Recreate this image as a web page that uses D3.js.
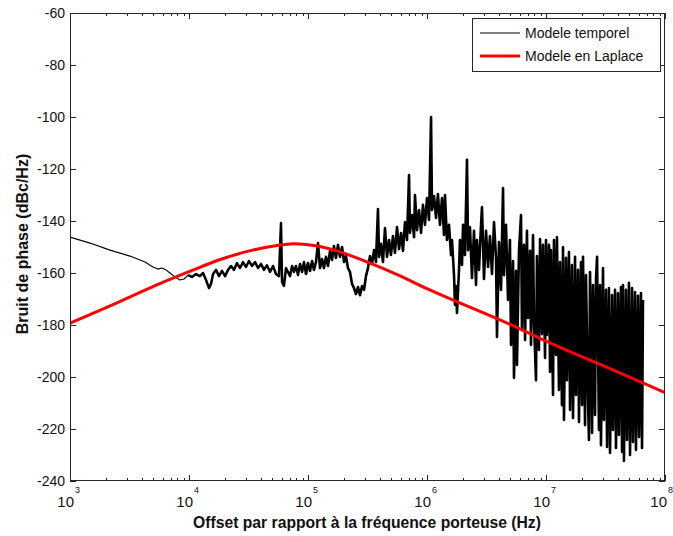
<!DOCTYPE html>
<html><head><meta charset="utf-8">
<script src="https://cdn.jsdelivr.net/npm/d3@7"></script>
<style>
body{margin:0;background:#fff}
svg{display:block}
text{font-family:"Liberation Sans",Arial,Helvetica,sans-serif;fill:#111}
</style>
</head><body>
<svg id="chart" width="673" height="536"></svg>
<script>
// ---------- data ----------
const yTickValues = [-240,-220,-200,-180,-160,-140,-120,-100,-80,-60];
const xDecades = [3,4,5,6,7,8];           // tick labels 10^n
const seriesNames = ["Modele temporel","Modele en Laplace"];

// Laplace model: log10(frequency in Hz) and dBc/Hz
const laplaceExp = [3.0,3.25,3.5,3.75,4.0,4.25,4.5,4.75,4.85,5.0,5.1,5.25,5.5,5.75,6.0,6.25,6.5,6.75,7.0,7.25,7.5,7.75,8.0];
const laplaceDb  = [-179.3,-174.4,-169.3,-164.2,-159.5,-155.0,-151.6,-149.3,-148.8,-149.1,-149.8,-151.6,-155.8,-160.6,-166.0,-171.0,-175.8,-180.8,-186.2,-191.2,-196.0,-201.0,-206.0];

// Temporal model: [log10(frequency in Hz), dBc/Hz]
const temporelA = [[3.000,-146.2],[3.168,-148.5],[3.336,-151.2],[3.504,-153.5],[3.630,-155.8],[3.697,-157.7],[3.739,-158.5],[3.773,-158.1],[3.807,-158.8],[3.840,-160.0],[3.882,-161.5],[3.924,-162.7],[3.958,-162.3],[3.992,-160.8]];
const temporelB = [[4.025,-161.5],[4.059,-160.4],[4.092,-161.2],[4.118,-160.0],[4.143,-162.7],[4.168,-165.8],[4.185,-164.2],[4.202,-160.4],[4.227,-158.8],[4.252,-161.2],[4.277,-159.2],[4.303,-161.2],[4.328,-158.8],[4.353,-157.3],[4.378,-158.8],[4.403,-156.2],[4.429,-158.1],[4.454,-155.8],[4.479,-157.7],[4.504,-155.4],[4.529,-157.3],[4.555,-155.8],[4.580,-158.1],[4.605,-156.5],[4.630,-158.8],[4.655,-157.0],[4.681,-159.6],[4.706,-157.3],[4.731,-160.4],[4.756,-161.2],[4.773,-140.8],[4.782,-163.5],[4.798,-165.0],[4.815,-158.1],[4.832,-159.6],[4.849,-161.2],[4.866,-157.3],[4.882,-159.6],[4.899,-157.3],[4.916,-160.8],[4.933,-156.5],[4.950,-159.6],[4.966,-155.8],[4.983,-160.4]];
const temporelC = [[5.000,-156.2],[5.017,-159.2],[5.034,-155.4],[5.050,-158.8],[5.067,-155.8],[5.084,-148.5],[5.101,-158.1],[5.118,-154.6],[5.134,-158.1],[5.151,-153.8],[5.168,-157.3],[5.185,-151.5],[5.202,-155.0],[5.218,-149.6],[5.235,-154.2],[5.252,-149.2],[5.269,-153.8],[5.286,-150.0],[5.303,-155.8],[5.319,-153.5],[5.336,-158.1],[5.353,-159.6],[5.370,-164.2],[5.387,-165.8],[5.403,-168.1],[5.420,-165.4],[5.437,-168.5],[5.454,-165.0],[5.471,-166.5],[5.487,-161.2],[5.504,-158.1],[5.521,-153.5],[5.538,-156.5],[5.555,-151.2],[5.571,-155.8],[5.588,-135.4],[5.597,-153.8],[5.613,-148.8],[5.630,-155.8],[5.647,-142.7],[5.664,-153.8],[5.681,-147.3],[5.697,-153.1],[5.714,-145.8],[5.731,-152.3],[5.748,-142.3],[5.765,-150.8],[5.782,-144.6],[5.798,-151.5],[5.815,-140.4],[5.832,-147.3],[5.849,-122.3],[5.857,-144.6],[5.874,-137.7],[5.891,-146.2],[5.899,-130.0],[5.916,-143.5],[5.933,-135.8],[5.950,-144.6],[5.966,-133.8],[5.983,-141.5]];
const temporelD = [[6.000,-131.2],[6.017,-139.6],[6.034,-100.0],[6.042,-135.8],[6.059,-130.4],[6.076,-138.8],[6.092,-129.6],[6.109,-141.5],[6.126,-131.2],[6.143,-145.4],[6.151,-130.0],[6.168,-147.3],[6.185,-141.5],[6.202,-153.1],[6.210,-147.3],[6.227,-160.8],[6.235,-172.3],[6.244,-165.0],[6.252,-175.4],[6.269,-158.8],[6.277,-147.3],[6.294,-156.9],[6.303,-141.5],[6.319,-153.1],[6.336,-116.5],[6.345,-151.2],[6.361,-142.3],[6.378,-161.9],[6.395,-143.8],[6.412,-164.6],[6.420,-147.3],[6.437,-158.8],[6.454,-141.5],[6.462,-134.6],[6.479,-162.3],[6.496,-143.8],[6.513,-157.7],[6.529,-145.8],[6.546,-160.4],[6.563,-140.4],[6.580,-154.2],[6.588,-184.6],[6.605,-148.1],[6.622,-166.5],[6.639,-127.3],[6.647,-160.8],[6.664,-141.5],[6.681,-170.4],[6.697,-147.3],[6.706,-187.7],[6.723,-155.4],[6.731,-200.4],[6.748,-159.2],[6.756,-195.4],[6.773,-151.5],[6.790,-137.7],[6.798,-181.9],[6.815,-149.2],[6.824,-185.8],[6.840,-143.8],[6.849,-177.3],[6.866,-151.5],[6.874,-187.7],[6.891,-145.4],[6.899,-178.5],[6.916,-201.2],[6.924,-153.5],[6.941,-189.6],[6.950,-146.9],[6.966,-183.5],[6.975,-149.2],[6.992,-192.7]];
const temporelE = [[7.000,-147.3],[7.008,-183.8],[7.025,-149.2],[7.034,-198.1],[7.042,-151.2],[7.059,-206.9],[7.067,-147.3],[7.084,-191.5],[7.092,-146.2],[7.109,-205.0],[7.118,-155.8],[7.134,-210.8],[7.143,-150.0],[7.151,-216.5],[7.168,-154.2],[7.176,-201.2],[7.193,-151.9],[7.202,-212.7],[7.218,-156.9],[7.227,-215.8],[7.244,-153.8],[7.252,-206.9],[7.269,-158.8],[7.277,-217.3],[7.294,-155.8],[7.303,-210.8],[7.311,-153.8],[7.328,-218.5],[7.336,-160.8],[7.353,-208.8],[7.361,-224.2],[7.370,-159.6],[7.387,-221.5],[7.395,-164.6],[7.412,-214.6],[7.420,-162.7],[7.429,-153.8],[7.445,-220.4],[7.454,-164.6],[7.462,-226.2],[7.479,-158.1],[7.487,-216.5],[7.504,-166.5],[7.513,-226.9],[7.529,-165.8],[7.538,-229.2],[7.555,-168.5],[7.563,-220.4],[7.580,-166.5],[7.588,-227.3],[7.605,-167.7],[7.613,-222.3],[7.630,-165.4],[7.639,-228.8],[7.647,-164.6],[7.655,-232.3],[7.672,-166.5],[7.681,-224.2],[7.697,-163.8],[7.706,-230.0],[7.723,-165.8],[7.731,-225.0],[7.748,-167.3],[7.756,-228.1],[7.773,-168.8],[7.782,-223.1],[7.798,-167.7],[7.807,-227.3],[7.815,-170.4]];

// ---------- layout ----------
const L = 70, R = 665, T = 13, B = 481;
const svg = d3.select("#chart");
const x = d3.scaleLog().domain([1e3, 1e8]).range([L, R]);
const y = d3.scaleLinear().domain([-240, -60]).range([B, T]);
const axisColor = "#262626";

svg.append("defs").append("clipPath").attr("id","plotclip")
  .append("rect").attr("x",L).attr("y",T).attr("width",R-L).attr("height",B-T);

const plot = svg.append("g").attr("clip-path","url(#plotclip)");

// temporal model (same series; the smooth low-offset part drawn thinner like the reference)
const toPts = arr => arr.map(d => ({f: Math.pow(10, d[0]), v: d[1]}));
const blackLine = d3.line().x(d => x(d.f)).y(d => y(d.v));
const temporelParts = [
  {pts: toPts(temporelA.concat([temporelB[0]])), w: 1.1},
  {pts: toPts([temporelA[temporelA.length-1]].concat(temporelB, [temporelC[0]])), w: 2.5},
  {pts: toPts([temporelB[temporelB.length-1]].concat(temporelC, temporelD, temporelE)), w: 2.6}
];
temporelParts.forEach(p => {
  plot.append("path").datum(p.pts)
    .attr("fill","none").attr("stroke","#000").attr("stroke-width",p.w)
    .attr("stroke-linejoin","round")
    .attr("d", blackLine);
});

// Laplace model
const laplace = laplaceExp.map((e,i) => ({f: Math.pow(10, e), v: laplaceDb[i]}));
plot.append("path").datum(laplace)
  .attr("fill","none").attr("stroke","#ff0000").attr("stroke-width",3)
  .attr("d", d3.line().curve(d3.curveCatmullRom).x(d => x(d.f)).y(d => y(d.v)));

// ---------- axes box ----------
const ax = svg.append("g").attr("stroke", axisColor).attr("stroke-width",1).attr("fill","none");
ax.append("rect").attr("x",L+0.5).attr("y",T+0.5).attr("width",R-L-1).attr("height",B-T-1);

// y ticks (left & right, inward)
yTickValues.forEach(v => {
  const yy = Math.round(y(v)) + 0.5;
  ax.append("line").attr("x1",L).attr("x2",L+6).attr("y1",yy).attr("y2",yy);
  ax.append("line").attr("x1",R-6).attr("x2",R).attr("y1",yy).attr("y2",yy);
});
// x ticks: major decades and minor 2..9
xDecades.forEach(d => {
  const xx = Math.round(x(Math.pow(10,d))) + 0.5;
  ax.append("line").attr("x1",xx).attr("x2",xx).attr("y1",B).attr("y2",B-6);
  ax.append("line").attr("x1",xx).attr("x2",xx).attr("y1",T).attr("y2",T+6);
  if (d < 8) {
    for (let k = 2; k <= 9; k++) {
      const xm = Math.round(x(k*Math.pow(10,d))) + 0.5;
      ax.append("line").attr("x1",xm).attr("x2",xm).attr("y1",B).attr("y2",B-3);
      ax.append("line").attr("x1",xm).attr("x2",xm).attr("y1",T).attr("y2",T+3);
    }
  }
});

// y tick labels
svg.append("g").selectAll("text").data(yTickValues).join("text")
  .attr("x", L-5).attr("y", d => y(d)+5)
  .attr("text-anchor","end").attr("font-size",14).text(d => d);

// x tick labels 10^n
const xl = svg.append("g");
xDecades.forEach(d => {
  const xx = x(Math.pow(10,d));
  const shift = d === 8 ? -2 : 0;
  xl.append("text").attr("x",xx+4+shift).attr("y",507).attr("text-anchor","end")
    .attr("font-size",15).text("10");
  xl.append("text").attr("x",xx+5+shift).attr("y",493).attr("text-anchor","start")
    .attr("font-size",9).text(d);
});

// axis titles
svg.append("text").attr("x",367).attr("y",528).attr("text-anchor","middle")
  .attr("font-size",15.7).attr("font-weight","bold")
  .text("Offset par rapport à la fréquence porteuse (Hz)");
svg.append("text").attr("transform","translate(28,244) rotate(-90)")
  .attr("text-anchor","middle").attr("font-size",16).attr("font-weight","bold")
  .text("Bruit de phase (dBc/Hz)");

// legend
const lg = svg.append("g");
lg.append("rect").attr("x",472.5).attr("y",18.5).attr("width",188).attr("height",53)
  .attr("fill","#fff").attr("stroke",axisColor).attr("stroke-width",1);
const legendColors = ["#000","#ff0000"], legendWidths = [1,3];
seriesNames.forEach((n,i) => {
  const yy = 33 + i*23;
  lg.append("line").attr("x1",480).attr("x2",520).attr("y1",yy).attr("y2",yy)
    .attr("stroke",legendColors[i]).attr("stroke-width",legendWidths[i]);
  lg.append("text").attr("x",525).attr("y",yy+5).attr("font-size",14).text(n);
});
</script>
</body></html>
